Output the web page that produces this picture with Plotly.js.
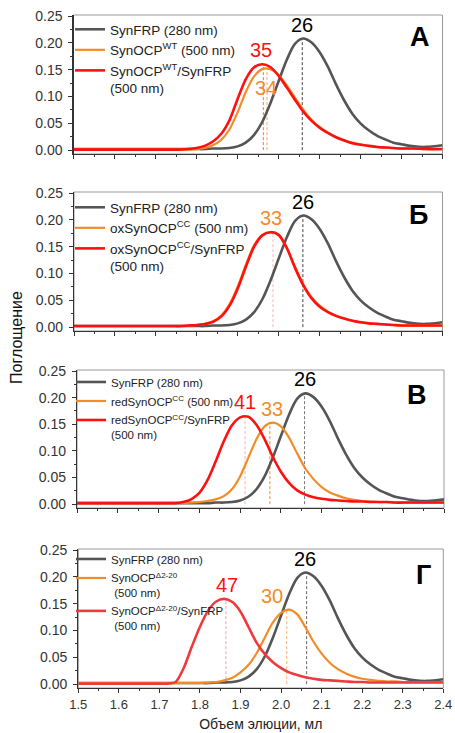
<!DOCTYPE html>
<html><head><meta charset="utf-8">
<script src="https://cdn.plot.ly/plotly-3.0.1.min.js"></script>
<style>html,body{margin:0;padding:0;background:#fff}#chart{width:455px;height:733px}</style>
</head><body><div id="chart"></div>
<script>
// ---- data ----
const elutionVolume = [1.50,1.55,1.60,1.65,1.70,1.72,1.74,1.76,1.78,1.80,1.82,1.84,1.86,1.88,1.90,1.92,1.94,1.96,1.98,2.00,2.02,2.04,2.06,2.08,2.10,2.12,2.14,2.16,2.18,2.20,2.22,2.24,2.26,2.28,2.30,2.33,2.36,2.40];

const synFRP = [.002,.002,.002,.002,.002,.002,.002,.002,.002,.002,.002,.003,.003,.004,.007,.014,.028,.052,.087,.128,.168,.198,.208,.201,.183,.156,.123,.093,.068,.050,.037,.027,.020,.014,.011,.007,.006,.009];

const ocpWT = [.001,.001,.001,.001,.001,.001,.001,.001,.001,.002,.004,.009,.019,.038,.070,.108,.137,.151,.151,.140,.121,.098,.076,.057,.043,.033,.025,.019,.014,.011,.008,.006,.005,.004,.003,.003,.002,.002];
const ocpWTfrp = [.001,.001,.001,.001,.001,.001,.001,.001,.002,.004,.008,.016,.030,.055,.095,.132,.154,.160,.155,.139,.117,.094,.072,.055,.042,.032,.024,.018,.013,.010,.008,.006,.005,.004,.003,.003,.002,.002];

const oxOCPcc = [.002,.002,.002,.002,.002,.002,.002,.002,.003,.004,.006,.011,.022,.043,.076,.117,.153,.172,.177,.171,.148,.112,.080,.056,.040,.029,.021,.016,.012,.009,.007,.006,.005,.004,.003,.003,.003,.003];
const oxOCPccFrp = [.002,.002,.002,.002,.002,.002,.002,.002,.003,.004,.006,.010,.020,.040,.072,.113,.150,.171,.177,.172,.147,.110,.078,.054,.038,.028,.021,.016,.012,.009,.007,.006,.005,.004,.003,.003,.003,.003];

const redOCPcc = [.002,.002,.002,.002,.002,.002,.002,.002,.003,.004,.006,.009,.015,.028,.052,.087,.122,.146,.153,.146,.125,.095,.067,.047,.032,.022,.016,.011,.008,.006,.005,.004,.004,.003,.003,.003,.003,.003];
const redOCPccFrp = [.002,.002,.002,.002,.002,.002,.002,.004,.009,.021,.045,.080,.118,.148,.163,.164,.149,.122,.089,.061,.040,.026,.018,.013,.010,.008,.007,.006,.005,.005,.004,.004,.004,.003,.003,.003,.003,.003];

const ocpD = [.002,.002,.002,.002,.002,.002,.002,.002,.002,.002,.003,.004,.007,.012,.022,.036,.058,.087,.115,.133,.139,.130,.106,.079,.057,.040,.028,.020,.014,.010,.008,.006,.005,.005,.004,.004,.004,.004];
const ocpDfrp = [.001,.001,.001,.001,.001,.001,.004,.030,.070,.107,.137,.154,.159,.153,.135,.106,.077,.056,.041,.030,.022,.017,.013,.010,.008,.007,.006,.005,.004,.004,.003,.003,.003,.003,.003,.003,.003,.003];

// peak positions (elution volume, absorbance) and labels
const peakVolA = [2.058, 1.972, 1.963], peakAbsA = [0.207, 0.151, 0.160], peakTextA = ['26','34','35'];
const peakVolB = [2.059, 1.986], peakAbsB = [0.207, 0.177], peakTextB = ['26','33'];
const peakVolC = [2.058, 1.973, 1.912], peakAbsC = [0.208, 0.153, 0.165], peakTextC = ['26','33','41'];
const peakVolD = [2.063, 2.014, 1.864], peakAbsD = [0.207, 0.139, 0.159], peakTextD = ['26','30','47'];

const legendA = ['SynFRP (280 nm)', 'SynOCP<sup>WT</sup> (500 nm)', 'SynOCP<sup>WT</sup>/SynFRP<br>(500 nm)'];
const legendB = ['SynFRP (280 nm)', 'oxSynOCP<sup>CC</sup> (500 nm)', 'oxSynOCP<sup>CC</sup>/SynFRP<br>(500 nm)'];
const legendC = ['SynFRP (280 nm)', 'redSynOCP<sup>CC</sup> (500 nm)', 'redSynOCP<sup>CC</sup>/SynFRP<br>(500 nm)'];
const legendD = ['SynFRP (280 nm)', 'SynOCP<sup>Δ2-20</sup><br>\u00a0(500 nm)', 'SynOCP<sup>Δ2-20</sup>/SynFRP<br>\u00a0(500 nm)'];

const panelLetters = ['А','Б','В','Г'];
const xTitle = 'Объем элюции, мл';
const yTitle = 'Поглощение';

// ---- styling / layout ----
const W = 455, H = 733;
const FONT = 'Liberation Sans, Arial, sans-serif';
const GRAY = '#555555', ORANGE = '#f28c28', RED = '#ff1010', BLACK = '#000000';

const panels = [
  {series:[synFRP, ocpWT, ocpWTfrp], names:legendA, colors:[GRAY, ORANGE, RED],
   pv:peakVolA, pa:peakAbsA, pt:peakTextA, pcol:[BLACK, ORANGE, RED], dcol:['#444','#f5a861','#f26a6a'],
   lab:[{dx:0,dy:1,anc:'bottom'},{dx:-1,dy:-6,anc:'top'},{dx:-2,dy:1,anc:'bottom'}],
   px:[73.5,442.5], py:[15,154], legFont:13.5, leg:{x:70, y:14}},
  {series:[synFRP, oxOCPcc, oxOCPccFrp], names:legendB, colors:[GRAY, ORANGE, RED],
   pv:peakVolB, pa:peakAbsB, pt:peakTextB, pcol:[BLACK, ORANGE], dcol:['#444','#f8b8b8'],
   lab:[{dx:0,dy:1,anc:'bottom'},{dx:-2,dy:1,anc:'bottom'}],
   px:[74,442.5], py:[192,331], legFont:13.5, leg:{x:70, y:192}},
  {series:[synFRP, redOCPcc, redOCPccFrp], names:legendC, colors:[GRAY, ORANGE, RED],
   pv:peakVolC, pa:peakAbsC, pt:peakTextC, pcol:[BLACK, ORANGE, RED], dcol:['#777','#f08a2a','#f8b0b0'],
   lab:[{dx:0,dy:1,anc:'bottom'},{dx:2,dy:1,anc:'bottom'},{dx:0,dy:1,anc:'bottom'}],
   px:[77,444], py:[370,508], legFont:11.5, leg:{x:71, y:368}},
  {series:[synFRP, ocpD, ocpDfrp], names:legendD, colors:[GRAY, ORANGE, '#ee3a3f'],
   pv:peakVolD, pa:peakAbsD, pt:peakTextD, pcol:[BLACK, ORANGE, RED], dcol:['#666','#f8b070','#f5a0a0'],
   lab:[{dx:-2,dy:1,anc:'bottom'},{dx:-15,dy:1,anc:'bottom'},{dx:1,dy:1,anc:'bottom'}],
   px:[78.3,443.3], py:[549,688], legFont:11.5, leg:{x:71, y:545}}
];
const letterPos = [[420,37],[418,215],[417,395],[423,575]];

const traces = [], annotations = [], shapes = [];
const layout = {
  width: W, height: H, margin:{l:0,r:0,t:0,b:0},
  paper_bgcolor:'#fff', plot_bgcolor:'rgba(0,0,0,0)',
  font:{family:FONT, color:'#222'}, showlegend:true
};

panels.forEach((p, i) => {
  const n = i === 0 ? '' : String(i + 1);
  const xa = 'x' + n, ya = 'y' + n;
  const legId = 'legend' + n;

  // dashed peak markers
  p.pv.forEach((v, k) => {
    traces.push({x:[v, v], y:[0, p.pa[k]], xaxis:xa, yaxis:ya, mode:'lines', showlegend:false,
      hoverinfo:'skip', line:{color:p.dcol[k], width:1, dash:'3px,2px'}});
  });
  // chromatograms
  p.series.forEach((s, k) => {
    traces.push({x:elutionVolume, y:s, xaxis:xa, yaxis:ya, name:p.names[k], legend:legId,
      mode:'lines', line:{color:p.colors[k], width:k === 1 ? 2.2 : 2.6, shape:'spline', smoothing:0.8}});
  });
  // peak labels
  p.pv.forEach((v, k) => {
    annotations.push({x:v, y:p.pa[k], xref:xa, yref:ya, text:p.pt[k], showarrow:false,
      xanchor:'center', yanchor:p.lab[k].anc, xshift:p.lab[k].dx, yshift:p.lab[k].dy,
      font:{family:FONT, size:20, color:p.pcol[k]}});
  });
  // panel letter
  annotations.push({x:letterPos[i][0]/W, y:1 - letterPos[i][1]/H, xref:'paper', yref:'paper',
    text:'<b>' + panelLetters[i] + '</b>', showarrow:false, xanchor:'center', yanchor:'middle',
    font:{family:FONT, size:27, color:'#000'}});
  // grey frame (top/right)
  shapes.push({type:'rect', xref:xa + ' domain', yref:ya + ' domain', x0:0, x1:1, y0:0, y1:1,
    line:{color:'#9a9a9a', width:1}, layer:'below'});

  layout['xaxis' + n] = {
    domain:[p.px[0]/W, p.px[1]/W], anchor:ya, range:[1.5, 2.4],
    tick0:1.5, dtick:0.1, tickformat:'.1f', ticks:'outside', ticklen:4, tickwidth:1, tickcolor:'#333',
    minor:{tick0:1.5, dtick:0.05, ticks:'outside', ticklen:2, tickwidth:1, tickcolor:'#333'},
    showticklabels: i === 3, tickfont:{family:FONT, size:13, color:'#333'},
    showline:true, linecolor:'#333', linewidth:1.2, showgrid:false, zeroline:false, fixedrange:true
  };
  layout['yaxis' + n] = {
    domain:[1 - p.py[1]/H, 1 - p.py[0]/H], anchor:xa, range:[-0.0072, 0.2519],
    tick0:0, dtick:0.05, tickformat:'.2f', ticks:'outside', ticklen:4, tickwidth:1, tickcolor:'#333',
    minor:{tick0:0, dtick:0.025, ticks:'outside', ticklen:2, tickwidth:1, tickcolor:'#333'},
    tickfont:{family:FONT, size:14, color:'#333'}, ticklabelstandoff:3,
    showline:true, linecolor:'#333', linewidth:1.2, showgrid:false, zeroline:false, fixedrange:true
  };
  layout[legId] = {
    x:p.leg.x/W, y:1 - p.leg.y/H, xanchor:'left', yanchor:'top', bgcolor:'rgba(0,0,0,0)',
    borderwidth:0, valign:'top', itemclick:false, itemdoubleclick:false,
    font:{family:FONT, size:p.legFont, color:'#222'}
  };
});

layout.xaxis4.title = {text:xTitle, font:{family:FONT, size:14, color:'#222'}, standoff:8};
annotations.push({x:17/W, y:1 - 338/H, xref:'paper', yref:'paper', text:yTitle, textangle:-90,
  showarrow:false, xanchor:'center', yanchor:'middle', font:{family:FONT, size:16, color:'#111'}});

layout.annotations = annotations;
layout.shapes = shapes;

Plotly.newPlot('chart', traces, layout, {displayModeBar:false, staticPlot:true});
</script>
</body></html>
